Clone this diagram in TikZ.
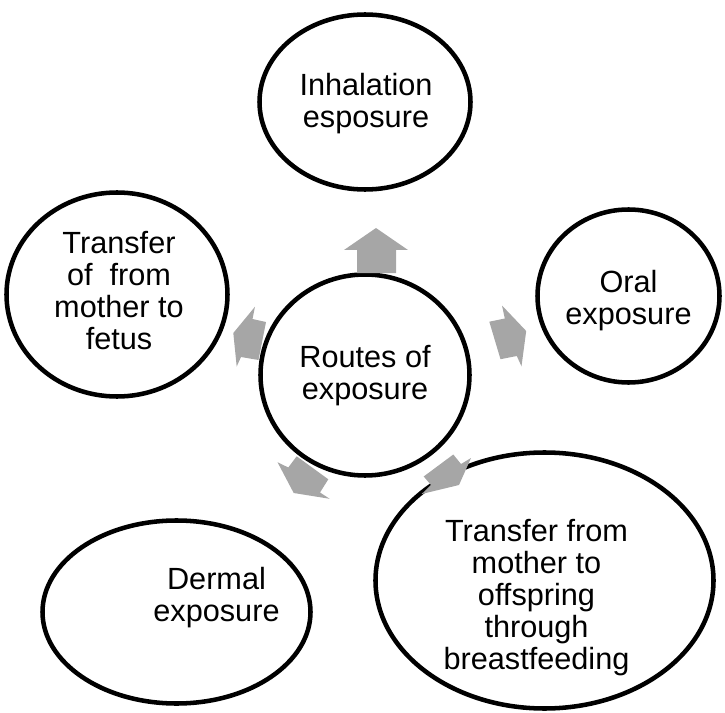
\documentclass[tikz,border=0pt]{standalone}
\usepackage{fontspec}
\setmainfont{Liberation Sans}
\usetikzlibrary{shapes.geometric}
\definecolor{arrowgray}{HTML}{A6A6A6}
\begin{document}
\begin{tikzpicture}[x=0.75pt,y=-0.75pt,
  bubble/.style={ellipse,draw=black,line width=3.4pt,inner sep=0pt},
  txt/.style={align=center,inner sep=0pt,font=\fontsize{23}{24}\selectfont},
  blockarrow/.style={fill=arrowgray,draw=none}]
\useasboundingbox (0,0) rectangle (725,713);
% bubbles
\node[bubble,minimum width=158.25pt,minimum height=131.25pt] (inh) at (365,102) {};
\node[bubble,minimum width=136.5pt,minimum height=129.75pt] (oral) at (628.5,296) {};
\node[bubble,minimum width=165.75pt,minimum height=153pt] (fetus) at (117,294.5) {};
\node[bubble,minimum width=156.75pt,minimum height=150.75pt] (routes) at (365,375) {};
\node[bubble,minimum width=201pt,minimum height=137.25pt] (dermal) at (176.5,612) {};
\node[bubble,minimum width=253.5pt,minimum height=192pt] (breast) at (544.5,580.5) {};
% texts
\node[txt] (inh-t) at ([shift={(1,2)}]inh.center) {Inhalation\\esposure};
\node[txt] (oral-t) at ([shift={(0,5)}]oral.center) {Oral\\exposure};
\node[txt] (fetus-t) at ([shift={(2,-4)}]fetus.center) {Transfer\\of\ \ from\\mother to\\fetus};
\node[txt] (routes-t) at ([shift={(0,1)}]routes.center) {Routes of\\exposure};
\node[txt] (dermal-t) at ([shift={(40,-14)}]dermal.center) {Dermal\\exposure};
\node[txt] (breast-t) at ([shift={(-8,17)}]breast.center) {Transfer from\\mother to\\offspring\\through\\breastfeeding};
% block arrows
\fill[blockarrow] (376,228) -- (408,250) -- (396,250) -- (396,273) -- (357,273) -- (357,250) -- (344,250) -- cycle;
\fill[blockarrow] (502,305.5) -- (504.8,318.5) -- (489.3,321.7) -- (500.5,359.2) -- (516.8,356) -- (521.5,366.3) -- (526.2,331) -- cycle;
\fill[blockarrow] (255,306.7) -- (252.5,319) -- (266,322) -- (258.5,360) -- (241,357) -- (236.7,366.5) -- (233.3,333) -- cycle;
\fill[blockarrow] (277.5,462.2) -- (288.3,467.5) -- (296.7,456.3) -- (328.3,479.3) -- (320,492.5) -- (329.7,498.8) -- (293.7,493) -- cycle;
\fill[blockarrow] (421.7,494) -- (431,485) -- (423.7,476.5) -- (453.3,454.5) -- (461,464) -- (471,458) -- (459,485) -- cycle;
\end{tikzpicture}
\end{document}
